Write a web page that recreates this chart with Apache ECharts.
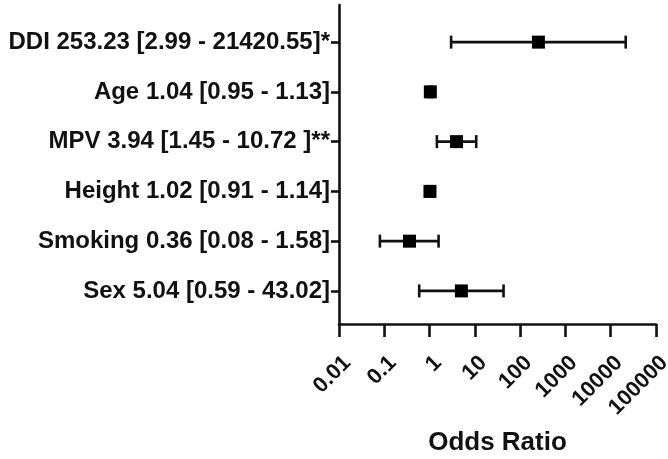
<!DOCTYPE html>
<html>
<head>
<meta charset="utf-8">
<script src="https://cdn.jsdelivr.net/npm/echarts@6/dist/echarts.min.js"></script>
<style>html,body{margin:0;padding:0;background:#fff}#c{width:668px;height:459px}</style>
</head>
<body>
<div id="c"></div>
<script>
// bottom to top
var categories = ['Sex 5.04 [0.59 - 43.02]', 'Smoking 0.36 [0.08 - 1.58]', 'Height 1.02 [0.91 - 1.14]', 'MPV 3.94 [1.45 - 10.72 ]**', 'Age 1.04 [0.95 - 1.13]', 'DDI 253.23 [2.99 - 21420.55]*'];
var oddsRatio = [5.04, 0.36, 1.02, 3.94, 1.04, 253.23];
var ciLow = [0.59, 0.08, 0.91, 1.45, 0.95, 2.99];
var ciHigh = [43.02, 1.58, 1.14, 10.72, 1.13, 21420.55];
var xTicks = [0.01, 0.1, 1, 10, 100, 1000, 10000, 100000];

var positions = categories.map(function (c, i) { return i; });
var pointData = oddsRatio.map(function (v, i) { return [v, i]; });
var barData = ciLow.map(function (v, i) { return [v, ciHigh[i], i]; });

var chart = echarts.init(document.getElementById('c'));
var fam = '"Liberation Sans", Arial, sans-serif';
chart.setOption({
  animation: false,
  grid: { left: 339, right: 12, top: 5, bottom: 135, containLabel: false, outerBoundsMode: 'none' },
  xAxis: {
    type: 'log', logBase: 10, min: 0.01, max: 100000,
    name: 'Odds Ratio', nameLocation: 'middle', nameGap: 106,
    nameTextStyle: { fontFamily: fam, fontWeight: 'bold', fontSize: 26, color: '#111' },
    axisLine: { onZero: false, lineStyle: { color: '#111', width: 2.6 } },
    axisTick: { show: true, length: 13, lineStyle: { color: '#111', width: 2.6 }, customValues: xTicks },
    splitLine: { show: false },
    minorTick: { show: false },
    axisLabel: {
      rotate: 45, margin: 27, verticalAlign: 'top', lineHeight: 24,
      fontFamily: fam, fontWeight: 'bold', fontSize: 22, color: '#111',
      customValues: xTicks,
      formatter: function (v) { return String(Number(Number(v).toPrecision(6))); }
    }
  },
  yAxis: {
    type: 'value', min: -0.665, max: 5.746,
    axisLine: { show: true, onZero: false, lineStyle: { color: '#111', width: 2.6 } },
    axisTick: { show: true, length: 8, lineStyle: { color: '#111', width: 2.6 }, customValues: positions },
    splitLine: { show: false },
    axisLabel: {
      margin: 9, fontFamily: fam, fontWeight: 'bold', fontSize: 24, color: '#111',
      customValues: positions,
      formatter: function (v) { return categories[Math.round(v)]; }
    }
  },
  series: [
    {
      type: 'custom',
      data: barData,
      renderItem: function (params, api) {
        var lo = api.coord([api.value(0), api.value(2)]);
        var hi = api.coord([api.value(1), api.value(2)]);
        var h = 6.5;
        var st = { stroke: '#111', lineWidth: 2.6 };
        return {
          type: 'group',
          children: [
            { type: 'line', shape: { x1: lo[0], y1: lo[1], x2: hi[0], y2: hi[1] }, style: st },
            { type: 'line', shape: { x1: lo[0], y1: lo[1] - h, x2: lo[0], y2: lo[1] + h }, style: st },
            { type: 'line', shape: { x1: hi[0], y1: hi[1] - h, x2: hi[0], y2: hi[1] + h }, style: st }
          ]
        };
      },
      z: 2
    },
    {
      type: 'scatter',
      data: pointData,
      symbol: 'rect',
      symbolSize: 13,
      itemStyle: { color: '#000', opacity: 1 },
      z: 3
    }
  ]
});
</script>
</body>
</html>
